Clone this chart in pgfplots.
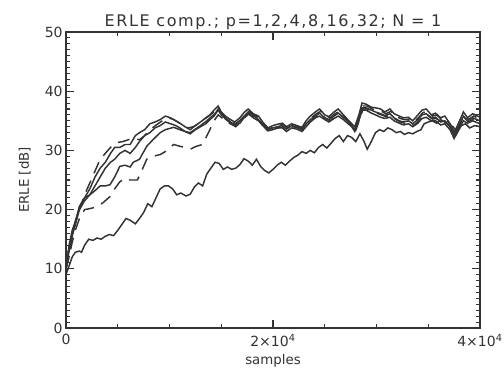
\documentclass[border=0pt]{standalone}
\usepackage{fontspec}
\setmainfont{DejaVu Sans}
\usepackage{pgfplots}
\pgfplotsset{compat=1.18}
\definecolor{ink}{gray}{0.2}
\begin{document}
\begin{tikzpicture}
\useasboundingbox (-49.5pt,-30.75pt) rectangle (328.5pt,246pt);
\begin{axis}[
  scale only axis,
  width=310.5pt, height=222pt,
  xmin=0, xmax=40000, ymin=0, ymax=50,
  axis line style={line width=1pt, ink},
  xtick={0,20000,40000},
  xticklabels={0, 2×10\textsuperscript{4}, 4×10\textsuperscript{4}},
  minor x tick num=3,
  ytick={0,10,20,30,40,50},
  minor y tick num=9,
  tick align=inside,
  major tick length=6pt,
  minor tick length=3pt,
  every tick/.style={ink, line width=0.8pt},
  /pgf/number format/assume math mode=true,
  tick label style={font=\fontsize{10.5}{12}\selectfont, text=ink},
  xticklabel style={yshift=-1pt},
  yticklabel style={xshift=1pt},
  scaled x ticks=false,
  title={\addfontfeatures{LetterSpace=10}ERLE comp.; p=1,2,4,8,16,32; N\ =\ 1},
  title style={at={(axis description cs:0.5,1)}, anchor=base, yshift=-1.5pt, font=\fontsize{12}{14}\selectfont, text=ink},
  xlabel={samples},
  xlabel style={at={(axis description cs:0.5,0)}, anchor=base, yshift=-27pt, font=\fontsize{10}{12}\selectfont, text=ink},
  ylabel={ERLE [dB]},
  ylabel style={at={(axis description cs:-0.1,0.5)}, anchor=center, font=\fontsize{10}{12}\selectfont, text=ink},
  clip=true,
]
% p=32 (top solid)
\addplot[ink, line width=1.1pt] coordinates {
(0,10) (300,14) (600,16.5) (900,18) (1300,20.5) (1800,22) (2300,23.5) (2800,25.5) (3300,27) (3800,28) (4300,29.5) (4700,30.5) (5200,30.5) (5700,31) (6200,31) (6700,32.5) (7100,33) (7600,33.5) (8100,34.5) (8600,34.8) (9100,35.2) (9600,35.8) (10100,35.5) (10600,35) (11000,34.6) (11500,34) (12000,33.5) (12500,34.2) (13000,34.8) (13500,35.5) (13900,36) (14300,36.8) (14700,37.5) (15000,36.5) (15400,35.8) (15900,35.2) (16300,34.8) (16800,35.5) (17200,36.4) (17600,37) (18100,36.2) (18600,35.8) (19000,34.8) (19500,33.8) (20000,34.2) (20400,34.4) (20900,34.6) (21300,34) (21800,34.5) (22300,34.2) (22800,33.9) (23200,35) (23600,35.8) (24100,36.5) (24500,37) (25000,36) (25400,35.7) (25900,36.5) (26300,37) (26800,36) (27200,35.2) (27600,34.5) (27900,34) (28300,36) (28600,38) (29000,37.8) (29500,37.3) (29900,37.2) (30400,37) (30800,36.5) (31300,37) (31700,36.2) (32200,35.8) (32600,35.5) (33100,35.6) (33500,35) (34000,36) (34400,36.8) (34800,37) (35300,36) (35700,36.3) (36200,35.5) (36600,35.8) (37100,34.5) (37500,33) (37900,34.5) (38400,36.5) (38800,35.5) (39300,36.2) (40000,35.6)
};
% second solid
\addplot[ink, line width=1.1pt] coordinates {
(0,10) (300,13.5) (600,16) (900,17.5) (1300,20) (1800,21.5) (2300,22.5) (2800,24) (3300,25.5) (3800,27) (4300,28) (4700,28.5) (5200,29.5) (5700,30) (6200,29.5) (6700,30.5) (7100,31.5) (7600,32.5) (8100,33) (8600,33.8) (9100,34.2) (9600,34.8) (10100,34.5) (10600,34.2) (11000,33.8) (11500,33.2) (12000,32.8) (12500,33.5) (13000,34) (13500,34.5) (13900,35.2) (14300,35.8) (14700,36.8) (15000,36) (15400,35.5) (15900,34.8) (16300,34.3) (16800,35) (17200,35.8) (17600,36.5) (18100,35.9) (18600,35.2) (19000,34.5) (19500,33.5) (20000,33.8) (20400,34) (20900,34.2) (21300,33.6) (21800,34.2) (22300,34) (22800,33.5) (23200,34.5) (23600,35.2) (24100,35.8) (24500,36.3) (25000,35.5) (25400,35.2) (25900,35.8) (26300,36.3) (26800,35.6) (27200,35) (27600,34.2) (27900,33.5) (28300,35.5) (28600,37.2) (29000,37.2) (29500,36.8) (29900,36.5) (30400,36.2) (30800,35.9) (31300,36.2) (31700,35.5) (32200,35) (32600,34.8) (33100,35) (33500,34.5) (34000,35.2) (34400,36) (34800,36.2) (35300,35.5) (35700,35.6) (36200,34.8) (36600,35) (37100,34) (37500,32.5) (37900,34) (38400,35.8) (38800,35) (39300,35.5) (40000,35)
};
% third solid
\addplot[ink, line width=1.1pt] coordinates {
(0,10) (300,13) (600,15.5) (900,17.5) (1300,20.5) (1800,22) (2300,22.5) (2800,23.2) (3300,24) (3800,24) (4250,24.2) (4700,25.5) (5200,27.3) (5700,27.5) (6200,27.2) (6500,28) (7100,28.5) (7800,30.7) (8400,31.8) (9100,33) (9600,33.5) (10400,33.9) (11000,33.5) (11500,33.2) (12000,33) (12500,33.6) (13000,34.2) (13600,35) (14000,35.6) (14400,36.2) (14700,37) (15000,36.2) (15400,35.3) (15900,34.6) (16300,34.2) (16800,34.6) (17200,35.5) (17600,36.2) (18100,35.5) (18600,35) (19000,34.2) (19500,33.3) (20000,33.5) (20400,33.8) (20900,33.8) (21300,33.2) (21800,33.8) (22300,33.6) (22800,33.2) (23200,34) (23600,34.8) (24100,35.5) (24500,35.8) (25000,35.2) (25400,34.8) (25900,35.4) (26300,35.8) (26800,35.2) (27200,34.6) (27600,34) (27900,33.2) (28300,35) (28600,36.8) (29000,36.8) (29500,36.3) (29900,36) (30400,35.6) (30800,35.4) (31300,35.6) (31700,35) (32200,34.6) (32600,34.3) (33100,34.5) (33500,34) (34000,34.6) (34400,35.4) (34800,35.6) (35300,35) (35700,35) (36200,34.3) (36600,34.5) (37100,33.5) (37500,32) (37900,33.5) (38400,35) (38800,34.6) (39300,35) (40000,34.5)
};
% upper dashed
\addplot[ink, line width=1.1pt, dash pattern=on 9pt off 6pt] coordinates {
(0,10) (300,12.5) (600,15.5) (900,18) (1300,20) (1800,22.5) (2300,24.5) (2800,26.5) (3300,28.5) (3800,29.5) (4300,30.5) (4900,31.3) (5500,31.5) (6200,31.9) (6700,32) (7100,31.8) (7600,32.5) (8100,33.5) (8800,34.4) (9300,35) (9800,35.5) (10300,35.3) (10800,34.8) (11300,34.2) (11800,33.8) (12300,34) (12800,34.5) (13300,35.2) (13800,35.8) (14300,36.5) (14700,37.2) (15100,36) (15500,35.2) (16000,35) (16400,34.5) (16900,35.2) (17300,36) (17700,36.6) (18200,35.9) (18700,35.5) (19100,34.5) (19600,33.6) (20100,34) (20500,34.2) (21000,34.4) (21400,33.8) (21900,34.3) (22400,34) (22900,33.7) (23300,34.8) (23700,35.5) (24200,36.2) (24600,36.6) (25100,35.8) (25500,35.5) (26000,36.2) (26400,36.6) (26900,35.8) (27300,35) (27700,34.3) (28000,33.8) (28400,35.8) (28700,37.5) (29100,37.5) (29600,37) (30000,36.8) (30500,36.6) (30900,36.2) (31400,36.6) (31800,35.8) (32300,35.4) (32700,35.2) (33200,35.3) (33600,34.8) (34100,35.6) (34500,36.4) (34900,36.6) (35400,35.8) (35800,36) (36300,35.2) (36700,35.4) (37200,34.2) (37600,32.8) (38000,34.2) (38500,36) (38900,35.2) (39400,35.8) (40000,35.3)
};
% lower dashed
\addplot[ink, line width=1.1pt, dash pattern=on 9pt off 6pt] coordinates {
(0,10) (300,12) (600,14.5) (900,16.5) (1300,18.5) (1800,20) (2400,20.2) (3000,20.5) (3600,21.2) (4250,22.2) (4700,23.5) (5200,24.7) (5700,25.3) (6200,25) (6900,25) (7300,26.5) (7800,28.5) (8400,29) (9100,29.3) (9600,29.8) (10400,31) (11000,30.7) (11500,30.5) (12000,30.2) (12600,30.7) (13200,31) (13900,33.5) (14300,35) (14700,36) (15000,35.6) (15500,34.8) (16000,34.4) (16400,34) (16900,34.8) (17300,35.6) (17700,36.2) (18200,35.6) (18700,35) (19100,34.2) (19600,33.2) (20100,33.6) (20500,33.8) (21000,34) (21400,33.4) (21900,34) (22400,33.8) (22900,33.4) (23300,34.4) (23700,35) (24200,35.8) (24600,36.2) (25100,35.4) (25500,35) (26000,35.6) (26400,36.2) (26900,35.4) (27300,34.8) (27700,34) (28000,33.4) (28400,35.4) (28700,37) (29100,37) (29600,36.6) (30000,36.3) (30500,36) (30900,35.7) (31400,36) (31800,35.3) (32300,34.8) (32700,34.6) (33200,34.8) (33600,34.2) (34100,35) (34500,35.8) (34900,36) (35400,35.3) (35800,35.4) (36300,34.6) (36700,34.8) (37200,33.8) (37600,32.3) (38000,33.8) (38500,35.5) (38900,34.8) (39400,35.3) (40000,34.8)
};
% p=1 (lowest solid)
\addplot[ink, line width=1.1pt] coordinates {
(0,9) (300,10.5) (600,12) (900,12.8) (1300,13) (1500,12.8) (1800,14) (2200,15) (2600,14.8) (3000,15.2) (3400,15) (3800,15.5) (4200,15.8) (4600,15.6) (5000,16.5) (5400,17.5) (5800,18.5) (6200,18.2) (6700,17.6) (7100,18.5) (7500,19.5) (7900,21) (8300,20.5) (8700,22) (9100,23.5) (9500,24) (9900,24) (10300,23.5) (10700,22.5) (11100,22.8) (11600,22.3) (12000,22.6) (12400,23.8) (12800,24.5) (13200,24) (13600,26) (14000,27) (14400,28) (14800,27.8) (15200,26.8) (15600,27.2) (16000,26.8) (16400,27) (16800,27.6) (17200,28.6) (17600,28.2) (18000,27.5) (18400,28.5) (18800,27.3) (19200,26.6) (19600,26.2) (20000,26.8) (20400,27.5) (20800,28) (21200,27.5) (21600,28.2) (22000,28.8) (22400,29.2) (22800,29.8) (23200,29.5) (23600,30) (24000,29.6) (24400,30.5) (24800,31) (25200,30.4) (25600,31.2) (26000,32) (26400,32.5) (26800,31.5) (27200,32.5) (27600,32.2) (28000,31.5) (28400,32.8) (28800,31.5) (29100,30.2) (29500,31.5) (29900,33) (30300,33.5) (30700,33.2) (31100,33.8) (31500,33.5) (31900,33) (32300,33.2) (32700,32.7) (33100,33) (33500,32.8) (33900,33.2) (34300,33.5) (34600,34.5) (35000,34.8) (35400,35) (35800,34.6) (36200,35.2) (36600,34.8) (37000,34.3) (37400,34) (37800,33) (38200,34.2) (38600,34.5) (39000,33.8) (39500,34.2) (40000,34)
};
\end{axis}
\end{tikzpicture}
\end{document}
